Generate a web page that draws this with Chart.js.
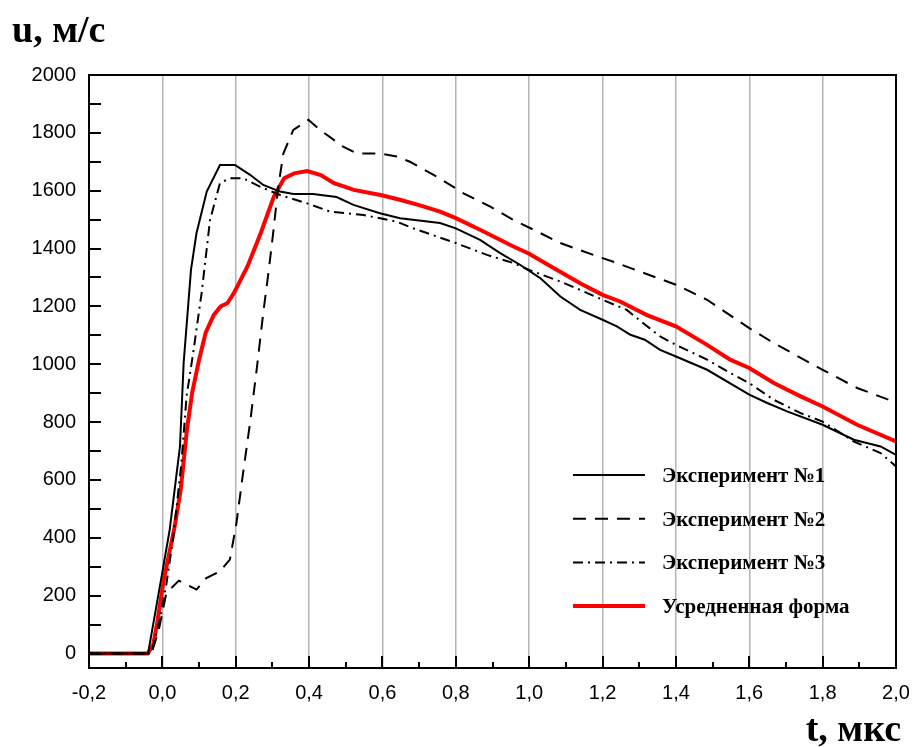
<!DOCTYPE html>
<html>
<head>
<meta charset="utf-8">
<script src="https://cdn.jsdelivr.net/npm/chart.js@4"></script>
<style>
  body { margin: 0; background: #fff; }
  #wrap { width: 916px; height: 747px; }
</style>
</head>
<body>
<div id="wrap"><canvas id="shockChart" width="916" height="747"></canvas></div>
<script>
// values: t in мкс, u in м/с
const xTicks = [-0.2, 0, 0.2, 0.4, 0.6, 0.8, 1.0, 1.2, 1.4, 1.6, 1.8, 2.0];
const xTickLabels = ['-0,2', '0,0', '0,2', '0,4', '0,6', '0,8', '1,0', '1,2', '1,4', '1,6', '1,8', '2,0'];
const yTicks = [0, 200, 400, 600, 800, 1000, 1200, 1400, 1600, 1800, 2000];

const seriesNames = ['Эксперимент №1', 'Эксперимент №2', 'Эксперимент №3', 'Усредненная форма'];

const t1 = [-0.2, -0.039, -0.002, 0.02, 0.048, 0.058, 0.078, 0.093, 0.121, 0.157, 0.198, 0.239, 0.275, 0.321, 0.357, 0.411, 0.475, 0.521, 0.593, 0.648, 0.757, 0.8, 0.866, 0.921, 0.975, 1.03, 1.085, 1.139, 1.2, 1.239, 1.276, 1.315, 1.357, 1.4, 1.485, 1.6, 1.649, 1.703, 1.8, 1.885, 1.958, 2.0];
const u1 = [0, 0, 267, 428, 716, 1004, 1326, 1453, 1597, 1689, 1689, 1655, 1620, 1597, 1589, 1589, 1578, 1551, 1522, 1505, 1488, 1470, 1430, 1384, 1344, 1298, 1234, 1188, 1154, 1131, 1102, 1085, 1050, 1027, 981, 895, 866, 837, 791, 739, 716, 687];

const t2 = [-0.2, -0.03, -0.01, 0.011, 0.045, 0.093, 0.12, 0.157, 0.184, 0.202, 0.22, 0.239, 0.257, 0.275, 0.289, 0.302, 0.316, 0.33, 0.357, 0.398, 0.43, 0.493, 0.53, 0.593, 0.639, 0.675, 0.748, 0.821, 0.894, 0.957, 1.012, 1.085, 1.175, 1.239, 1.303, 1.4, 1.485, 1.6, 1.667, 1.8, 1.894, 2.0];
const u2 = [0, 0, 80, 210, 252, 221, 261, 284, 325, 451, 624, 797, 981, 1177, 1315, 1453, 1614, 1729, 1810, 1845, 1810, 1752, 1729, 1729, 1718, 1700, 1649, 1591, 1545, 1499, 1465, 1419, 1378, 1350, 1320, 1275, 1223, 1125, 1073, 981, 918, 868];

const t3 = [-0.2, -0.03, -0.007, 0.011, 0.03, 0.052, 0.066, 0.084, 0.107, 0.13, 0.157, 0.184, 0.22, 0.266, 0.321, 0.393, 0.457, 0.548, 0.639, 0.684, 0.8, 0.885, 0.957, 1.0, 1.085, 1.139, 1.2, 1.266, 1.303, 1.357, 1.4, 1.485, 1.548, 1.6, 1.667, 1.74, 1.8, 1.885, 1.958, 2.0];
const u3 = [0, 0, 117, 240, 405, 659, 889, 1039, 1246, 1499, 1626, 1643, 1643, 1614, 1585, 1557, 1528, 1516, 1493, 1470, 1419, 1378, 1350, 1326, 1286, 1257, 1223, 1188, 1150, 1096, 1067, 1016, 970, 935, 877, 831, 802, 733, 693, 647];

const tAvg = [-0.2, -0.04, -0.025, -0.014, 0.004, 0.032, 0.05, 0.067, 0.081, 0.1, 0.118, 0.14, 0.159, 0.177, 0.195, 0.232, 0.268, 0.304, 0.332, 0.359, 0.395, 0.432, 0.468, 0.522, 0.595, 0.65, 0.7, 0.757, 0.8, 0.866, 0.957, 1.0, 1.076, 1.139, 1.2, 1.248, 1.321, 1.4, 1.485, 1.548, 1.6, 1.667, 1.74, 1.8, 1.894, 2.0];
const uAvg = [0, 0, 30, 106, 256, 428, 566, 774, 900, 1015, 1109, 1170, 1200, 1211, 1246, 1338, 1453, 1580, 1643, 1660, 1668, 1654, 1626, 1603, 1585, 1568, 1550, 1528, 1505, 1465, 1407, 1382, 1326, 1280, 1240, 1217, 1170, 1131, 1067, 1016, 987, 935, 889, 854, 791, 733];

function toPoints(ts, us) {
    return ts.map((t, i) => ({ x: t, y: us[i] }));
}

const SERIF = '"Liberation Serif", "DejaVu Serif", serif';
const SANS = '"Liberation Sans", Arial, sans-serif';

// inward ticks, frame, axis titles and the legend box inside the plot
const decorPlugin = {
    id: 'decor',
    afterDraw(chart) {
        const ctx = chart.ctx;
        const area = chart.chartArea;
        const xs = chart.scales.x, ys = chart.scales.y;
        ctx.save();
        ctx.strokeStyle = '#000';
        ctx.lineWidth = 2;
        // x ticks: major every 0.2, minor between
        for (let k = -2; k <= 20; k++) {
            const px = Math.round(xs.getPixelForValue(k / 10));
            const len = (k % 2 === 0) ? 12 : 6;
            ctx.beginPath();
            ctx.moveTo(px, area.bottom);
            ctx.lineTo(px, area.bottom - len);
            ctx.stroke();
        }
        // y ticks every 100
        for (let v = 0; v < 2000; v += 100) {
            const py = Math.round(ys.getPixelForValue(v));
            ctx.beginPath();
            ctx.moveTo(area.left, py);
            ctx.lineTo(area.left + 12, py);
            ctx.stroke();
        }
        ctx.strokeRect(area.left, area.top, area.right - area.left, area.bottom - area.top);

        // axis titles
        ctx.fillStyle = '#000';
        ctx.font = 'bold 38px ' + SERIF;
        ctx.textAlign = 'left';
        ctx.textBaseline = 'alphabetic';
        ctx.fillText('u, м/с', 12, 42);
        ctx.textAlign = 'right';
        ctx.fillText('t, мкс', 901, 741);

        // legend
        ctx.font = 'bold 21px ' + SERIF;
        ctx.textAlign = 'left';
        chart.data.datasets.forEach((ds, i) => {
            const ly = 475 + i * 43.7;
            ctx.beginPath();
            ctx.strokeStyle = ds.borderColor;
            ctx.lineWidth = ds.borderWidth;
            ctx.setLineDash(ds.borderDash || []);
            ctx.moveTo(573, ly);
            ctx.lineTo(645, ly);
            ctx.stroke();
            ctx.setLineDash([]);
            ctx.fillText(ds.label, 662, ly + 7);
        });
        ctx.restore();
    }
};

const ctx = document.getElementById('shockChart').getContext('2d');
new Chart(ctx, {
    type: 'scatter',
    data: {
        datasets: [
            {
                label: seriesNames[0],
                data: toPoints(t1, u1),
                borderColor: '#000',
                borderWidth: 2
            },
            {
                label: seriesNames[1],
                data: toPoints(t2, u2),
                borderColor: '#000',
                borderWidth: 2,
                borderDash: [13, 9]
            },
            {
                label: seriesNames[2],
                data: toPoints(t3, u3),
                borderColor: '#000',
                borderWidth: 2,
                borderDash: [10, 5, 2, 5]
            },
            {
                label: seriesNames[3],
                data: toPoints(tAvg, uAvg),
                borderColor: '#ff0000',
                borderWidth: 4
            }
        ]
    },
    options: {
        responsive: false,
        animation: false,
        showLine: true,
        elements: { point: { radius: 0 }, line: { tension: 0, fill: false } },
        layout: { padding: { top: 75, right: 20, bottom: 0, left: 0 } },
        plugins: { legend: { display: false }, tooltip: { enabled: false } },
        scales: {
            x: {
                type: 'linear',
                min: -0.2,
                max: 2.0,
                afterBuildTicks: (scale) => { scale.ticks = xTicks.map(v => ({ value: v })); },
                afterFit: (scale) => {
                    scale.height = 79;
                    scale.paddingLeft = 0;
                    scale.paddingRight = 0;
                },
                grid: {
                    drawTicks: false,
                    color: (c) => (c.tick && (c.tick.value <= -0.2 || c.tick.value >= 2.0)) ? 'rgba(0,0,0,0)' : '#b4b4b4',
                    lineWidth: 1.5
                },
                border: { display: false },
                ticks: {
                    autoSkip: false,
                    maxRotation: 0,
                    padding: 13,
                    color: '#000',
                    font: { family: SANS, size: 20 },
                    callback: (value, index) => xTickLabels[index]
                }
            },
            y: {
                min: -50,
                max: 2000,
                afterBuildTicks: (scale) => { scale.ticks = yTicks.map(v => ({ value: v })); },
                afterFit: (scale) => {
                    scale.width = 89;
                    scale.paddingTop = 0;
                    scale.paddingBottom = 0;
                },
                grid: { display: false, drawTicks: false },
                border: { display: false },
                ticks: {
                    padding: 13,
                    color: '#000',
                    font: { family: SANS, size: 20 },
                    callback: (value) => String(value)
                }
            }
        }
    },
    plugins: [decorPlugin]
});
</script>
</body>
</html>
